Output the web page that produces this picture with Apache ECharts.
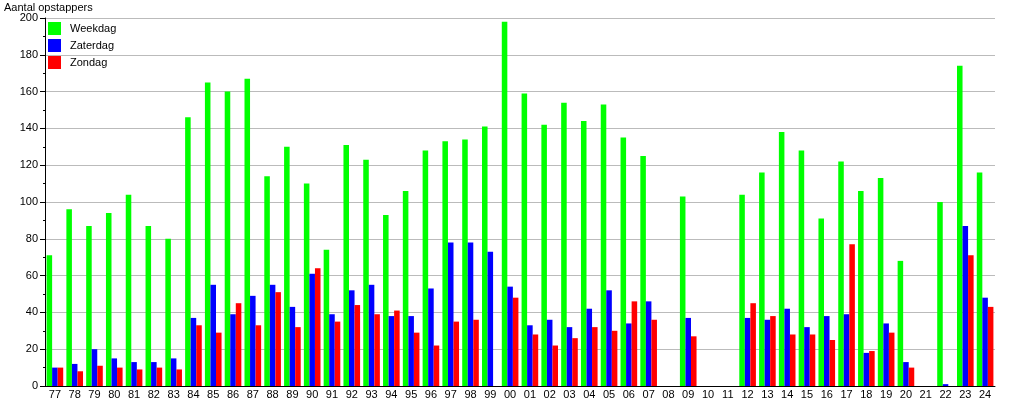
<!DOCTYPE html>
<html>
<head>
<meta charset="utf-8">
<script src="https://cdn.jsdelivr.net/npm/echarts@6/dist/echarts.min.js"></script>
<style>html,body{margin:0;padding:0;background:#fff}#c{width:1015px;height:400px}</style>
</head>
<body>
<div id="c"></div>
<script>
const years = ['77','78','79','80','81','82','83','84','85','86','87','88','89','90','91','92','93','94','95','96','97','98','99',
  '00','01','02','03','04','05','06','07','08','09','10','11','12','13','14','15','16','17','18','19','20','21','22','23','24'];
const weekdag = [71,96,87,94,104,87,80,146,165,160,167,114,130,110,74,131,123,93,106,128,133,134,141,
  198,159,142,154,144,153,135,125,null,103,null,null,104,116,138,128,91,122,106,113,68,null,100,174,116];
const zaterdag = [10,12,20,15,13,13,15,37,55,39,49,55,43,61,39,52,55,38,38,53,78,78,73,
  54,33,36,32,42,52,34,46,null,37,null,null,37,36,42,32,38,39,18,34,13,null,1,87,48];
const zondag = [10,8,11,10,9,10,9,33,29,45,33,51,32,64,35,44,39,41,29,22,35,36,null,
  48,28,22,26,32,30,46,36,null,27,null,null,45,38,28,28,25,77,19,29,10,null,null,71,43];
const seriesNames = ['Weekdag','Zaterdag','Zondag'];
const yTitle = 'Aantal opstappers';

const font = '"Liberation Sans", Arial, sans-serif';
const chart = echarts.init(document.getElementById('c'), null, {renderer:'canvas'});
const mk = (name, data, color) => ({
  name, type:'bar', data, barWidth:'28%', barGap:'0%',
  itemStyle:{color}, emphasis:{disabled:true}, animation:false
});
chart.setOption({
  animation:false,
  title:{text:yTitle, left:4, top:2, padding:0, textStyle:{fontFamily:font, fontSize:11, fontWeight:'normal', color:'#000'}},
  legend:{
    orient:'vertical', left:48, top:22, padding:0, itemWidth:13, itemHeight:13, itemGap:4,
    icon:'rect', selectedMode:false,
    textStyle:{fontFamily:font, fontSize:11, color:'#000', padding:[0,0,0,4]},
    data:seriesNames
  },
  grid:{left:45, right:20, top:18, bottom:13, containLabel:false},
  xAxis:{
    type:'category', data:years, boundaryGap:true,
    axisLine:{lineStyle:{color:'#000', width:1}},
    axisTick:{show:false},
    axisLabel:{fontFamily:font, fontSize:11, color:'#000', margin:3, interval:0}
  },
  yAxis:{
    type:'value', min:0, max:200, interval:20,
    axisLine:{show:true, lineStyle:{color:'#000'}},
    axisTick:{show:true, length:5, lineStyle:{color:'#000'}},
    minorTick:{show:true, splitNumber:2, length:2, lineStyle:{color:'#000'}},
    splitLine:{show:true, lineStyle:{color:'#bbbbbb', width:1}},
    axisLabel:{fontFamily:font, fontSize:11, color:'#000', margin:7}
  },
  series:[
    mk(seriesNames[0], weekdag, '#00ff00'),
    mk(seriesNames[1], zaterdag, '#0000ff'),
    mk(seriesNames[2], zondag, '#ff0000')
  ]
});
</script>
</body>
</html>
